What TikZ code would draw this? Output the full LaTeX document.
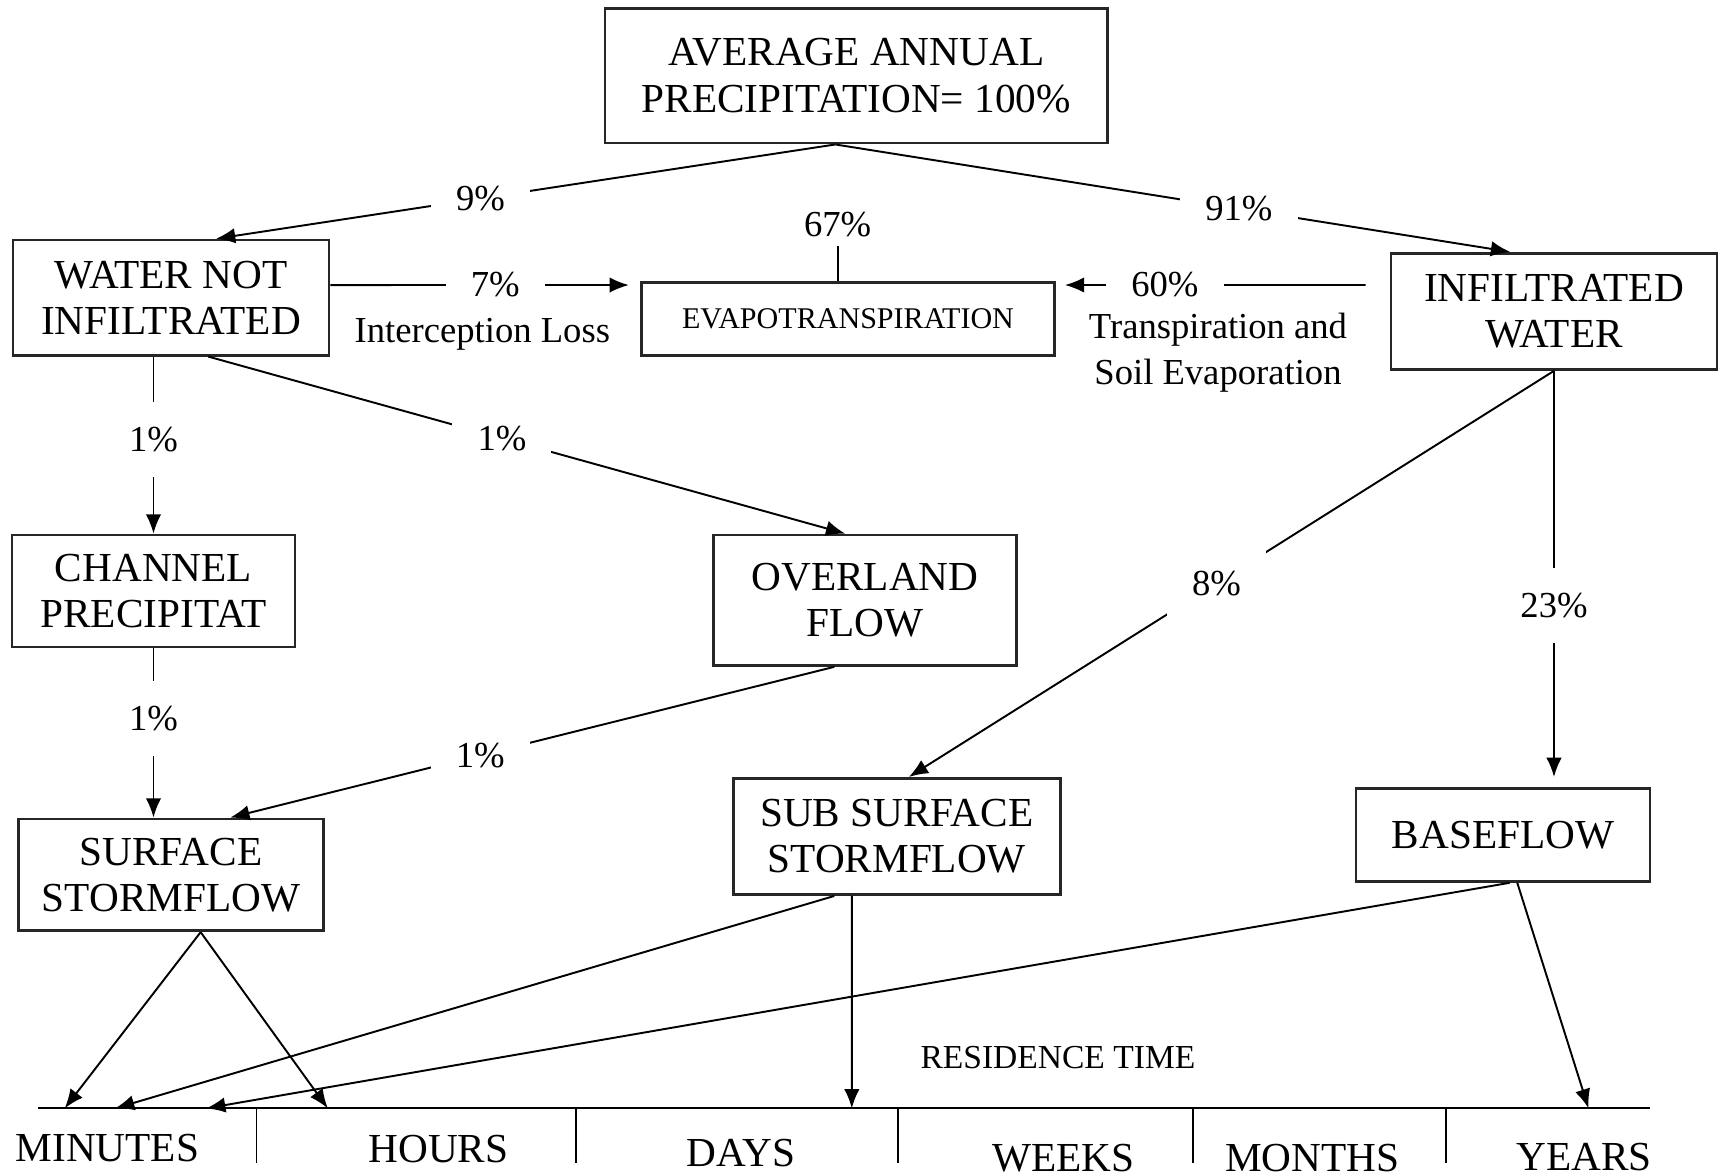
\documentclass[tikz,border=0pt]{standalone}
\usepackage{fontspec}
\setmainfont{Liberation Serif}
\usetikzlibrary{positioning,arrows.meta}

\begin{document}
\begin{tikzpicture}[x=0.01cm, y=-0.01cm]
		\tikzstyle{box}=[rectangle, draw=black!85, line width=0.7pt, align=center, inner sep=2pt, font=\fontsize{10.7}{12}\selectfont]
		\tikzstyle{connect}=[-{Latex[length=5pt,width=4pt]}, line width=0.5pt]
		\tikzstyle{link}=[line width=0.5pt]
		\tikzstyle{pct}=[fill=white, inner sep=6.5pt, font=\fontsize{9.5}{11}\selectfont]
		\tikzstyle{note}=[align=center, inner sep=1pt, font=\fontsize{9.5}{12}\selectfont]
		\tikzstyle{period}=[inner sep=1pt, font=\fontsize{10.7}{12}\selectfont]
		%\tikzstyle{frame}=[rectangle, draw=black!100]
		\useasboundingbox (0,0) rectangle (1568,1072);
		
		\node[box, minimum width=4.58cm, minimum height=1.23cm] (avg) at (781,69) {AVERAGE ANNUAL\\PRECIPITATION= 100\%};
		
		\node[box, minimum width=2.88cm, minimum height=1.05cm] (wni) at (156,271.5) {WATER NOT\\INFILTRATED};
		\node[box, minimum width=3.77cm, minimum height=0.66cm, font=\fontsize{7.8}{9}\selectfont] (evap) at (773.5,291) {EVAPOTRANSPIRATION};
		\node[box, minimum width=2.97cm, minimum height=1.06cm] (inf) at (1417.5,284) {INFILTRATED\\WATER};
		
		\node[box, minimum width=2.58cm, minimum height=1.02cm] (chan) at (140,539) {CHANNEL\\PRECIPITAT};
		\node[box, minimum width=2.76cm, minimum height=1.19cm] (over) at (789,547.5) {OVERLAND\\FLOW};
		
		\node[box, minimum width=2.78cm, minimum height=1.02cm] (surf) at (156,798) {SURFACE\\STORMFLOW};
		\node[box, minimum width=2.98cm, minimum height=1.06cm] (sub) at (818,763) {SUB SURFACE\\STORMFLOW};
		\node[box, minimum width=2.68cm, minimum height=0.85cm] (base) at (1371,761.5) {BASEFLOW};
		
		\node[pct, inner sep=2pt] (p67) at (764,205) {67\%};
		
		% residence time axis
		\coordinate (tlL) at (35,1011);
		\coordinate (tlR) at (1505,1011);
		\coordinate (m1) at (59,1011);
		\coordinate (m2) at (105,1011);
		\coordinate (m3) at (188,1011);
		\coordinate (h1) at (299,1011);
		\coordinate (d1) at (777,1011);
		\coordinate (y1) at (1449,1011);
		\draw[link] (tlL) -- (tlR);
		\foreach \t in {234,525,819,1088,1319}
			\draw[link] (\t,1011) -- (\t,1061);
		\foreach \x/\y/\lbl/\nm in {98/1047/MINUTES/tmin, 400/1048/HOURS/thour, 676/1052/DAYS/tday, 970/1056/WEEKS/tweek, 1197/1056/MONTHS/tmonth, 1445/1055/YEARS/tyear}
			\node[period] (\nm) at (\x,\y) {\lbl};
		\node[period, font=\fontsize{8.7}{10}\selectfont] (restime) at (965,965) {RESIDENCE TIME};
		
		\path ([xshift=-0.19cm]avg.south) edge [connect] node[pct, pos=0.573] {9\%} ([xshift=0.41cm]wni.north);
		\path ([xshift=-0.19cm]avg.south) edge [connect] node[pct, pos=0.598] {91\%} ([xshift=-0.4cm]inf.north);
		
		\path ([yshift=0.115cm]wni.east) edge [connect, shorten >=0.1cm] node[pct, pos=0.533] {7\%} ([yshift=0.31cm]evap.west);
		\path ([yshift=0.24cm]inf.west) edge [connect, shorten <=0.22cm, shorten >=0.08cm] node[pct, pos=0.674] {60\%} ([yshift=0.31cm]evap.east);
		\path (p67) edge [link] (p67 |- evap.north);
		
		\path (wni.south -| chan.north) edge [connect] node[pct, pos=0.47] {1\%} (chan.north);
		\path ([xshift=0.34cm]wni.south) edge [connect] node[pct, pos=0.461] {1\%} ([xshift=-0.18cm]over.north);
		\path (chan.south) edge [connect] node[pct, pos=0.414] {1\%} (chan.south |- surf.north);
		\path ([xshift=-0.28cm]over.south) edge [connect] node[pct, pos=0.586] {1\%} ([xshift=0.54cm]surf.north);
		
		\path (inf.south) edge [connect, shorten >=0.09cm] node[pct, pos=0.565] {23\%} (inf.south |- base.north);
		\path (inf.south) edge [connect] node[pct, pos=0.523] {8\%} ([xshift=0.11cm]sub.north);
		
		\path ([xshift=0.27cm]surf.south) edge [connect] (m1);
		\path ([xshift=0.27cm]surf.south) edge [connect] (h1);
		\path ([xshift=-0.57cm]sub.south) edge [connect] (m2);
		\path ([xshift=-0.41cm]sub.south) edge [connect] (d1);
		\path ([xshift=0.06cm]base.south) edge [connect] (m3);
		\path ([xshift=0.13cm]base.south) edge [connect] (y1);
		
		% notes on top of the label fills
		\node[note] (intloss) at (440,305) {Interception Loss};
		\node[note] (transp) at (1111,322) {Transpiration and\\Soil Evaporation};

	\end{tikzpicture}
\end{document}
